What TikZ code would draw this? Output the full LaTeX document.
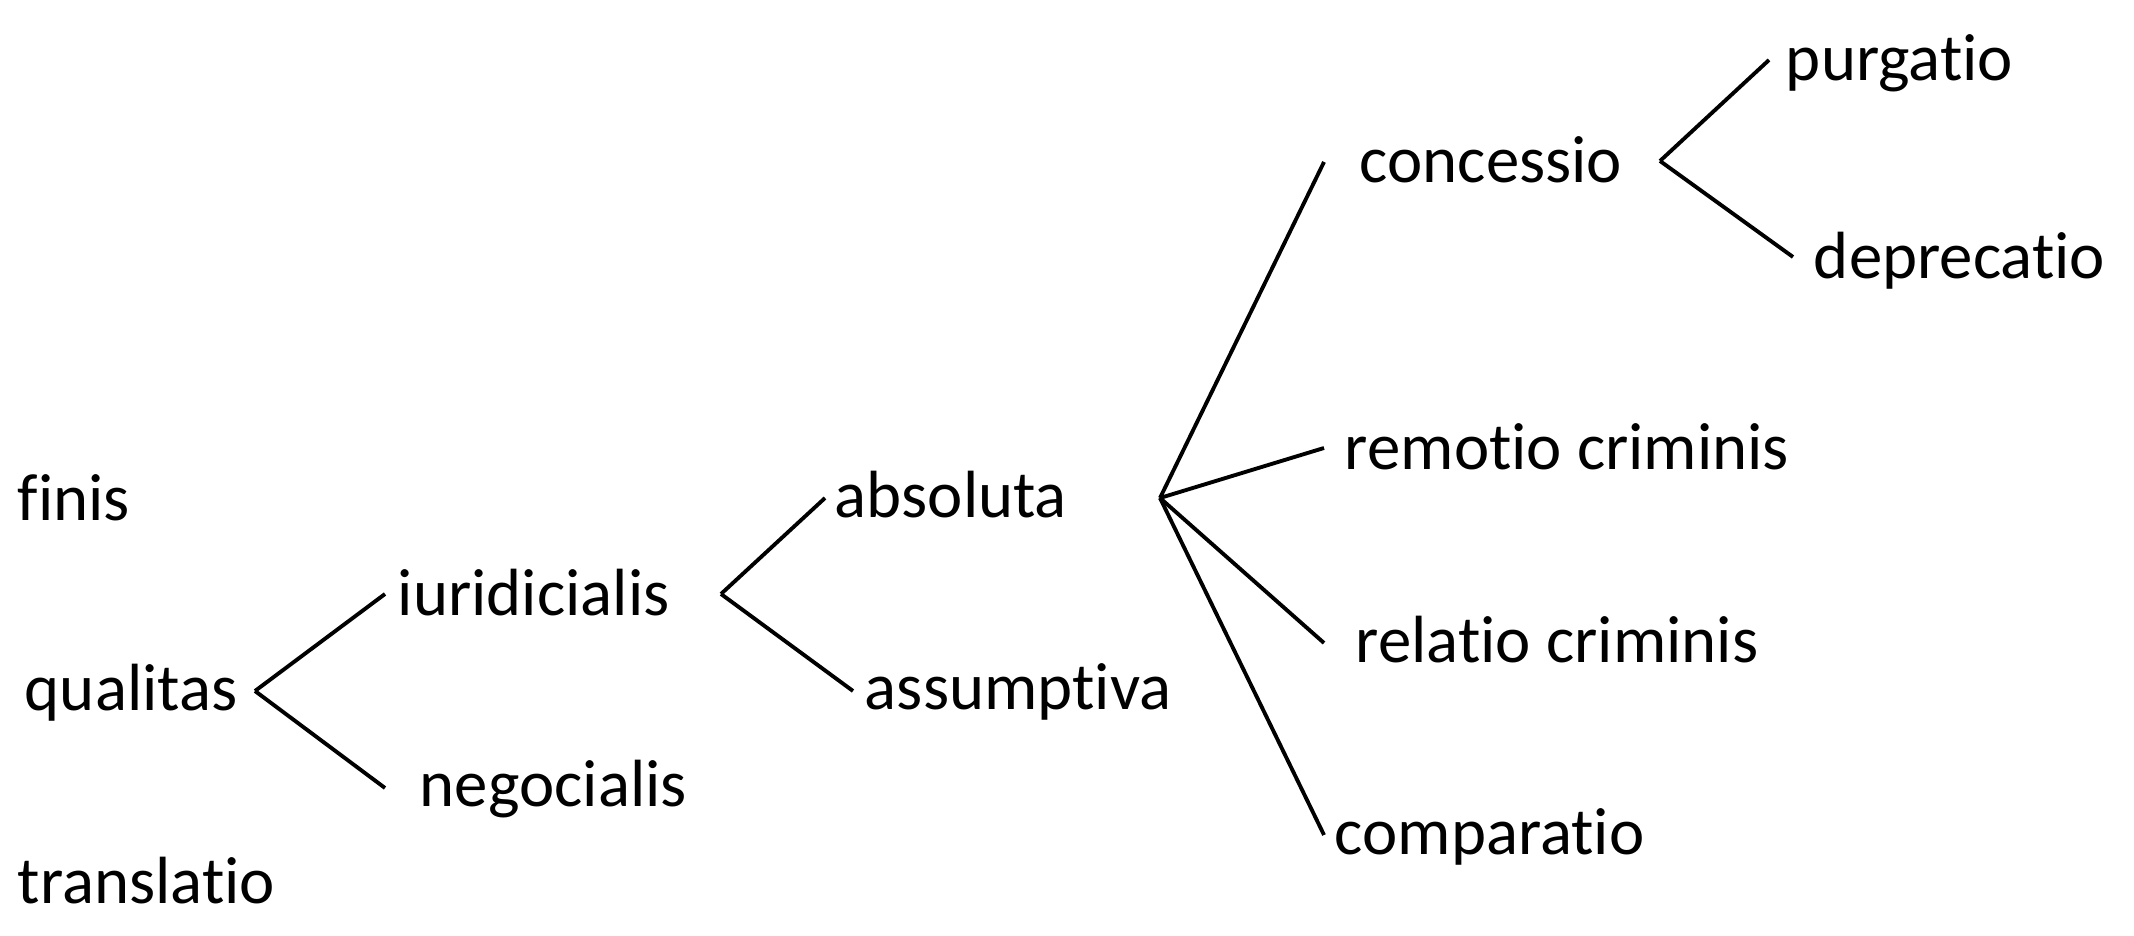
\documentclass[tikz,border=0pt]{standalone}
\usepackage{fontspec}
\setmainfont{Carlito}[Ligatures=NoCommon]
\begin{document}
\begin{tikzpicture}[line width=1.1pt,
  term/.style={anchor=base west, inner sep=0pt, font=\fontsize{19}{23}\selectfont}]
\useasboundingbox (0,0) rectangle (21.34,9.36);

% status column
\node [term] (finis) at (0.16,4.15) {finis};
\node [term] (qualitas) at (0.23,2.25) {qualitas};
\node [term] (translatio) at (0.16,0.32) {translatio};

% qualitas
\coordinate (qj) at (2.55,2.45);
\coordinate (iu) at (3.85,3.42);
\coordinate (ne) at (3.85,1.48);
\node [term] (iuridicialis) at (3.96,3.20) {iuridicialis};
\node [term] (negocialis) at (4.18,1.29) {negocialis};
\foreach \e in {iu,ne} \draw (qj) -- (\e);

% iuridicialis
\coordinate (ij) at (7.21,3.42);
\coordinate (ab) at (8.25,4.38);
\coordinate (as) at (8.53,2.45);
\node [term] (absoluta) at (8.33,4.18) {absoluta};
\node [term] (assumptiva) at (8.63,2.26) {assumptiva};
\foreach \e in {ab,as} \draw (ij) -- (\e);

% assumptiva branches, drawn from the absoluta fork as in the source
\coordinate (aj) at (11.60,4.38);
\coordinate (co) at (13.24,7.74);
\coordinate (rm) at (13.24,4.88);
\coordinate (rl) at (13.24,2.93);
\coordinate (cp) at (13.24,1.01);
\node [term] (concessio) at (13.58,7.53) {concessio};
\node [term] (remotio) at (13.43,4.66) {remotio criminis};
\node [term] (relatio) at (13.54,2.73) {relatio criminis};
\node [term] (comparatio) at (13.33,0.81) {comparatio};
\foreach \e in {co,rm,rl,cp} \draw (aj) -- (\e);

% concessio
\coordinate (cj) at (16.60,7.75);
\coordinate (pu) at (17.69,8.76);
\coordinate (de) at (17.93,6.79);
\node [term] (purgatio) at (17.84,8.55) {purgatio};
\node [term] (deprecatio) at (18.12,6.57) {deprecatio};
\foreach \e in {pu,de} \draw (cj) -- (\e);

\end{tikzpicture}
\end{document}
